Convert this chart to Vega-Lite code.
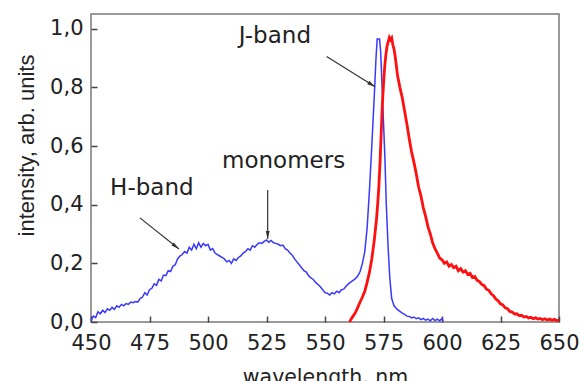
{
  "$schema": "https://vega.github.io/schema/vega-lite/v6.json",
  "width": 468,
  "height": 308,
  "autosize": {"type": "none"},
  "padding": {"left": 91, "top": 14, "right": 22, "bottom": 59},
  "background": "white",
  "config": {
    "view": {"stroke": "#7a7a7a", "strokeWidth": 1.5}
  },
  "datasets": {
    "absorption": [
      {"wavelength": 450, "intensity": 0.005}, {"wavelength": 451, "intensity": 0.02}, {"wavelength": 452, "intensity": 0.015},
      {"wavelength": 453, "intensity": 0.035}, {"wavelength": 454, "intensity": 0.028}, {"wavelength": 455, "intensity": 0.04},
      {"wavelength": 456, "intensity": 0.032}, {"wavelength": 457, "intensity": 0.045}, {"wavelength": 458, "intensity": 0.04},
      {"wavelength": 459, "intensity": 0.05}, {"wavelength": 460, "intensity": 0.043}, {"wavelength": 461, "intensity": 0.055},
      {"wavelength": 462, "intensity": 0.05}, {"wavelength": 463, "intensity": 0.06}, {"wavelength": 464, "intensity": 0.055},
      {"wavelength": 465, "intensity": 0.063}, {"wavelength": 466, "intensity": 0.06}, {"wavelength": 467, "intensity": 0.068},
      {"wavelength": 468, "intensity": 0.066}, {"wavelength": 469, "intensity": 0.07}, {"wavelength": 470, "intensity": 0.068},
      {"wavelength": 471, "intensity": 0.08}, {"wavelength": 472, "intensity": 0.085}, {"wavelength": 473, "intensity": 0.1},
      {"wavelength": 474, "intensity": 0.092}, {"wavelength": 475, "intensity": 0.11}, {"wavelength": 476, "intensity": 0.115},
      {"wavelength": 477, "intensity": 0.13}, {"wavelength": 478, "intensity": 0.125}, {"wavelength": 479, "intensity": 0.145},
      {"wavelength": 480, "intensity": 0.14}, {"wavelength": 481, "intensity": 0.16}, {"wavelength": 482, "intensity": 0.158},
      {"wavelength": 483, "intensity": 0.175}, {"wavelength": 484, "intensity": 0.172}, {"wavelength": 485, "intensity": 0.19},
      {"wavelength": 486, "intensity": 0.195}, {"wavelength": 487, "intensity": 0.215}, {"wavelength": 488, "intensity": 0.225},
      {"wavelength": 489, "intensity": 0.23}, {"wavelength": 490, "intensity": 0.24}, {"wavelength": 491, "intensity": 0.235},
      {"wavelength": 492, "intensity": 0.255}, {"wavelength": 493, "intensity": 0.245}, {"wavelength": 494, "intensity": 0.265},
      {"wavelength": 495, "intensity": 0.25}, {"wavelength": 496, "intensity": 0.27}, {"wavelength": 497, "intensity": 0.255},
      {"wavelength": 498, "intensity": 0.268}, {"wavelength": 499, "intensity": 0.26}, {"wavelength": 500, "intensity": 0.265},
      {"wavelength": 501, "intensity": 0.245}, {"wavelength": 502, "intensity": 0.25}, {"wavelength": 503, "intensity": 0.235},
      {"wavelength": 504, "intensity": 0.23}, {"wavelength": 505, "intensity": 0.225}, {"wavelength": 506, "intensity": 0.22},
      {"wavelength": 507, "intensity": 0.215}, {"wavelength": 508, "intensity": 0.205}, {"wavelength": 509, "intensity": 0.21},
      {"wavelength": 510, "intensity": 0.2}, {"wavelength": 511, "intensity": 0.215}, {"wavelength": 512, "intensity": 0.21},
      {"wavelength": 513, "intensity": 0.22}, {"wavelength": 514, "intensity": 0.225}, {"wavelength": 515, "intensity": 0.235},
      {"wavelength": 516, "intensity": 0.24}, {"wavelength": 517, "intensity": 0.25}, {"wavelength": 518, "intensity": 0.245},
      {"wavelength": 519, "intensity": 0.26}, {"wavelength": 520, "intensity": 0.255}, {"wavelength": 521, "intensity": 0.265},
      {"wavelength": 522, "intensity": 0.27}, {"wavelength": 523, "intensity": 0.268}, {"wavelength": 524, "intensity": 0.275},
      {"wavelength": 525, "intensity": 0.28}, {"wavelength": 526, "intensity": 0.272}, {"wavelength": 527, "intensity": 0.278},
      {"wavelength": 528, "intensity": 0.27}, {"wavelength": 529, "intensity": 0.268}, {"wavelength": 530, "intensity": 0.265},
      {"wavelength": 531, "intensity": 0.26}, {"wavelength": 532, "intensity": 0.262}, {"wavelength": 533, "intensity": 0.25},
      {"wavelength": 534, "intensity": 0.245}, {"wavelength": 535, "intensity": 0.235}, {"wavelength": 536, "intensity": 0.228},
      {"wavelength": 537, "intensity": 0.215}, {"wavelength": 538, "intensity": 0.205}, {"wavelength": 539, "intensity": 0.195},
      {"wavelength": 540, "intensity": 0.185}, {"wavelength": 541, "intensity": 0.175}, {"wavelength": 542, "intensity": 0.17},
      {"wavelength": 543, "intensity": 0.158}, {"wavelength": 544, "intensity": 0.15}, {"wavelength": 545, "intensity": 0.145},
      {"wavelength": 546, "intensity": 0.135}, {"wavelength": 547, "intensity": 0.128}, {"wavelength": 548, "intensity": 0.12},
      {"wavelength": 549, "intensity": 0.11}, {"wavelength": 550, "intensity": 0.1}, {"wavelength": 551, "intensity": 0.098},
      {"wavelength": 552, "intensity": 0.092}, {"wavelength": 553, "intensity": 0.1}, {"wavelength": 554, "intensity": 0.096},
      {"wavelength": 555, "intensity": 0.105}, {"wavelength": 556, "intensity": 0.1}, {"wavelength": 557, "intensity": 0.11},
      {"wavelength": 558, "intensity": 0.112}, {"wavelength": 559, "intensity": 0.122}, {"wavelength": 560, "intensity": 0.13},
      {"wavelength": 561, "intensity": 0.136}, {"wavelength": 562, "intensity": 0.142}, {"wavelength": 563, "intensity": 0.148},
      {"wavelength": 564, "intensity": 0.157}, {"wavelength": 565, "intensity": 0.172}, {"wavelength": 566, "intensity": 0.2},
      {"wavelength": 567, "intensity": 0.24}, {"wavelength": 568, "intensity": 0.32}, {"wavelength": 569, "intensity": 0.45},
      {"wavelength": 570, "intensity": 0.6}, {"wavelength": 571, "intensity": 0.76}, {"wavelength": 571.8, "intensity": 0.9},
      {"wavelength": 572.3, "intensity": 0.965}, {"wavelength": 573.3, "intensity": 0.965}, {"wavelength": 573.8, "intensity": 0.92},
      {"wavelength": 574.3, "intensity": 0.82}, {"wavelength": 575, "intensity": 0.68}, {"wavelength": 575.6, "intensity": 0.56},
      {"wavelength": 576.2, "intensity": 0.4}, {"wavelength": 577, "intensity": 0.25}, {"wavelength": 577.7, "intensity": 0.15},
      {"wavelength": 578.5, "intensity": 0.08}, {"wavelength": 579.5, "intensity": 0.055}, {"wavelength": 581, "intensity": 0.042},
      {"wavelength": 582, "intensity": 0.036}, {"wavelength": 583, "intensity": 0.03}, {"wavelength": 584, "intensity": 0.026},
      {"wavelength": 585, "intensity": 0.02}, {"wavelength": 586, "intensity": 0.019}, {"wavelength": 587, "intensity": 0.014},
      {"wavelength": 588, "intensity": 0.017}, {"wavelength": 589, "intensity": 0.011}, {"wavelength": 590, "intensity": 0.014},
      {"wavelength": 591, "intensity": 0.008}, {"wavelength": 592, "intensity": 0.012}, {"wavelength": 593, "intensity": 0.006},
      {"wavelength": 594, "intensity": 0.01}, {"wavelength": 595, "intensity": 0.004}, {"wavelength": 596, "intensity": 0.012},
      {"wavelength": 597, "intensity": 0.005}, {"wavelength": 598, "intensity": 0.01}, {"wavelength": 599, "intensity": 0.004},
      {"wavelength": 600, "intensity": 0.012}, {"wavelength": 600.5, "intensity": 0.003}
    ],
    "luminescence": [
      {"wavelength": 560.5, "intensity": 0.0}, {"wavelength": 561, "intensity": 0.008}, {"wavelength": 562, "intensity": 0.02},
      {"wavelength": 563, "intensity": 0.032}, {"wavelength": 564, "intensity": 0.05}, {"wavelength": 565, "intensity": 0.068},
      {"wavelength": 566, "intensity": 0.085}, {"wavelength": 567, "intensity": 0.105}, {"wavelength": 568, "intensity": 0.135},
      {"wavelength": 569, "intensity": 0.17}, {"wavelength": 570, "intensity": 0.215}, {"wavelength": 571, "intensity": 0.275},
      {"wavelength": 572, "intensity": 0.35}, {"wavelength": 572.5, "intensity": 0.4}, {"wavelength": 573, "intensity": 0.46},
      {"wavelength": 573.5, "intensity": 0.54}, {"wavelength": 574, "intensity": 0.64}, {"wavelength": 574.5, "intensity": 0.74},
      {"wavelength": 575, "intensity": 0.81}, {"wavelength": 575.5, "intensity": 0.87}, {"wavelength": 576, "intensity": 0.91},
      {"wavelength": 576.5, "intensity": 0.94}, {"wavelength": 577, "intensity": 0.955}, {"wavelength": 577.5, "intensity": 0.97},
      {"wavelength": 578, "intensity": 0.962}, {"wavelength": 578.5, "intensity": 0.968}, {"wavelength": 579, "intensity": 0.945},
      {"wavelength": 579.5, "intensity": 0.93}, {"wavelength": 580, "intensity": 0.905}, {"wavelength": 581, "intensity": 0.84},
      {"wavelength": 582, "intensity": 0.8}, {"wavelength": 583, "intensity": 0.765}, {"wavelength": 584, "intensity": 0.72},
      {"wavelength": 585, "intensity": 0.675}, {"wavelength": 586, "intensity": 0.625}, {"wavelength": 587, "intensity": 0.58},
      {"wavelength": 588, "intensity": 0.545}, {"wavelength": 589, "intensity": 0.505}, {"wavelength": 590, "intensity": 0.46},
      {"wavelength": 591, "intensity": 0.43}, {"wavelength": 592, "intensity": 0.39}, {"wavelength": 593, "intensity": 0.36},
      {"wavelength": 594, "intensity": 0.325}, {"wavelength": 595, "intensity": 0.3}, {"wavelength": 596, "intensity": 0.27},
      {"wavelength": 597, "intensity": 0.25}, {"wavelength": 598, "intensity": 0.235}, {"wavelength": 599, "intensity": 0.218},
      {"wavelength": 600, "intensity": 0.212}, {"wavelength": 601, "intensity": 0.2}, {"wavelength": 602, "intensity": 0.205},
      {"wavelength": 603, "intensity": 0.19}, {"wavelength": 604, "intensity": 0.196}, {"wavelength": 605, "intensity": 0.185},
      {"wavelength": 606, "intensity": 0.19}, {"wavelength": 607, "intensity": 0.175}, {"wavelength": 608, "intensity": 0.182},
      {"wavelength": 609, "intensity": 0.17}, {"wavelength": 610, "intensity": 0.175}, {"wavelength": 611, "intensity": 0.162},
      {"wavelength": 612, "intensity": 0.166}, {"wavelength": 613, "intensity": 0.152}, {"wavelength": 614, "intensity": 0.155},
      {"wavelength": 615, "intensity": 0.142}, {"wavelength": 616, "intensity": 0.138}, {"wavelength": 617, "intensity": 0.128},
      {"wavelength": 618, "intensity": 0.124}, {"wavelength": 619, "intensity": 0.112}, {"wavelength": 620, "intensity": 0.108},
      {"wavelength": 621, "intensity": 0.096}, {"wavelength": 622, "intensity": 0.09}, {"wavelength": 623, "intensity": 0.078},
      {"wavelength": 624, "intensity": 0.072}, {"wavelength": 625, "intensity": 0.062}, {"wavelength": 626, "intensity": 0.058},
      {"wavelength": 627, "intensity": 0.048}, {"wavelength": 628, "intensity": 0.045}, {"wavelength": 629, "intensity": 0.036},
      {"wavelength": 630, "intensity": 0.034}, {"wavelength": 631, "intensity": 0.027}, {"wavelength": 632, "intensity": 0.028},
      {"wavelength": 633, "intensity": 0.022}, {"wavelength": 634, "intensity": 0.023}, {"wavelength": 635, "intensity": 0.017},
      {"wavelength": 636, "intensity": 0.019}, {"wavelength": 637, "intensity": 0.014}, {"wavelength": 638, "intensity": 0.016},
      {"wavelength": 639, "intensity": 0.011}, {"wavelength": 640, "intensity": 0.014}, {"wavelength": 641, "intensity": 0.01},
      {"wavelength": 642, "intensity": 0.012}, {"wavelength": 643, "intensity": 0.008}, {"wavelength": 644, "intensity": 0.011},
      {"wavelength": 645, "intensity": 0.007}, {"wavelength": 646, "intensity": 0.01}, {"wavelength": 647, "intensity": 0.006},
      {"wavelength": 648, "intensity": 0.009}, {"wavelength": 649, "intensity": 0.005}, {"wavelength": 650, "intensity": 0.006}
    ],
    "labels": [
      {"text": "H-band", "wavelength": 476, "intensity": 0.456},
      {"text": "monomers", "wavelength": 532.3, "intensity": 0.548},
      {"text": "J-band", "wavelength": 528.6, "intensity": 0.974}
    ],
    "arrows": [
      {"label": "H-band", "wavelength": 470.9, "intensity": 0.355, "wavelength2": 487.6, "intensity2": 0.249},
      {"label": "monomers", "wavelength": 525.5, "intensity": 0.45, "wavelength2": 525.5, "intensity2": 0.283},
      {"label": "J-band", "wavelength": 550.7, "intensity": 0.905, "wavelength2": 571.4, "intensity2": 0.802}
    ]
  },
  "layer": [
    {
      "data": {"name": "absorption"},
      "mark": {"type": "line", "color": "#3838ff", "strokeWidth": 1.5},
      "encoding": {
        "x": {
          "field": "wavelength", "type": "quantitative",
          "scale": {"domain": [450, 650], "nice": false, "zero": false},
          "axis": {
            "orient": "bottom",
            "offset": -6,
            "domain": false,
            "grid": false,
            "ticks": true,
            "tickColor": "#444",
            "tickWidth": 1.5,
            "tickSize": 6,
            "title": "wavelength, nm",
            "titleFont": "DejaVu Sans", "titleFontSize": 20.5, "titleFontWeight": "normal", "titleColor": "#222",
            "titleY": 67, "titleBaseline": "alphabetic",
            "values": [450, 475, 500, 525, 550, 575, 600, 625, 650],
            "labelFont": "DejaVu Sans", "labelFontSize": 21, "labelColor": "#222",
            "labelPadding": 10,
            "labelFlush": false,
            "labelOverlap": false
          }
        },
        "y": {
          "field": "intensity", "type": "quantitative",
          "scale": {"domain": [0, 1.05], "nice": false},
          "axis": {
            "orient": "left",
            "offset": -6,
            "domain": false,
            "grid": false,
            "ticks": true,
            "tickColor": "#444",
            "tickWidth": 1.5,
            "tickSize": 6,
            "title": "intensity, arb. units",
            "titleFont": "Liberation Sans", "titleFontSize": 22, "titleFontWeight": "normal", "titleColor": "#222",
            "titleX": -71, "titleY": 131, "titleBaseline": "middle", "titleAnchor": "middle",
            "values": [0, 0.2, 0.4, 0.6, 0.8, 1.0],
            "labelExpr": "replace(format(datum.value, '.1f'), '.', ',')",
            "labelFont": "DejaVu Sans", "labelFontSize": 21, "labelColor": "#222",
            "labelPadding": 8,
            "labelOverlap": false
          }
        }
      }
    },
    {
      "data": {"name": "luminescence"},
      "mark": {"type": "line", "color": "#ff1010", "strokeWidth": 2.8},
      "encoding": {
        "x": {"field": "wavelength", "type": "quantitative"},
        "y": {"field": "intensity", "type": "quantitative"}
      }
    },
    {
      "data": {"name": "arrows"},
      "mark": {"type": "rule", "color": "#333", "strokeWidth": 1.2},
      "encoding": {
        "x": {"field": "wavelength", "type": "quantitative"},
        "y": {"field": "intensity", "type": "quantitative"},
        "x2": {"field": "wavelength2"}, "y2": {"field": "intensity2"}
      }
    },
    {
      "data": {"name": "arrows"},
      "transform": [{"filter": "datum.label == 'H-band'"}],
      "mark": {"type": "point", "shape": "M0,0L0.5,2L-0.5,2Z", "size": 64, "filled": true, "color": "#333", "opacity": 1, "angle": 128},
      "encoding": {
        "x": {"field": "wavelength2", "type": "quantitative"},
        "y": {"field": "intensity2", "type": "quantitative"}
      }
    },
    {
      "data": {"name": "arrows"},
      "transform": [{"filter": "datum.label == 'monomers'"}],
      "mark": {"type": "point", "shape": "M0,0L0.5,2L-0.5,2Z", "size": 64, "filled": true, "color": "#333", "opacity": 1, "angle": 180},
      "encoding": {
        "x": {"field": "wavelength2", "type": "quantitative"},
        "y": {"field": "intensity2", "type": "quantitative"}
      }
    },
    {
      "data": {"name": "arrows"},
      "transform": [{"filter": "datum.label == 'J-band'"}],
      "mark": {"type": "point", "shape": "M0,0L0.5,2L-0.5,2Z", "size": 64, "filled": true, "color": "#333", "opacity": 1, "angle": 122},
      "encoding": {
        "x": {"field": "wavelength2", "type": "quantitative"},
        "y": {"field": "intensity2", "type": "quantitative"}
      }
    },
    {
      "data": {"name": "labels"},
      "mark": {"type": "text", "font": "DejaVu Sans", "fontSize": 23, "color": "#222", "align": "center", "baseline": "middle"},
      "encoding": {
        "x": {"field": "wavelength", "type": "quantitative"},
        "y": {"field": "intensity", "type": "quantitative"},
        "text": {"field": "text"}
      }
    }
  ]
}
